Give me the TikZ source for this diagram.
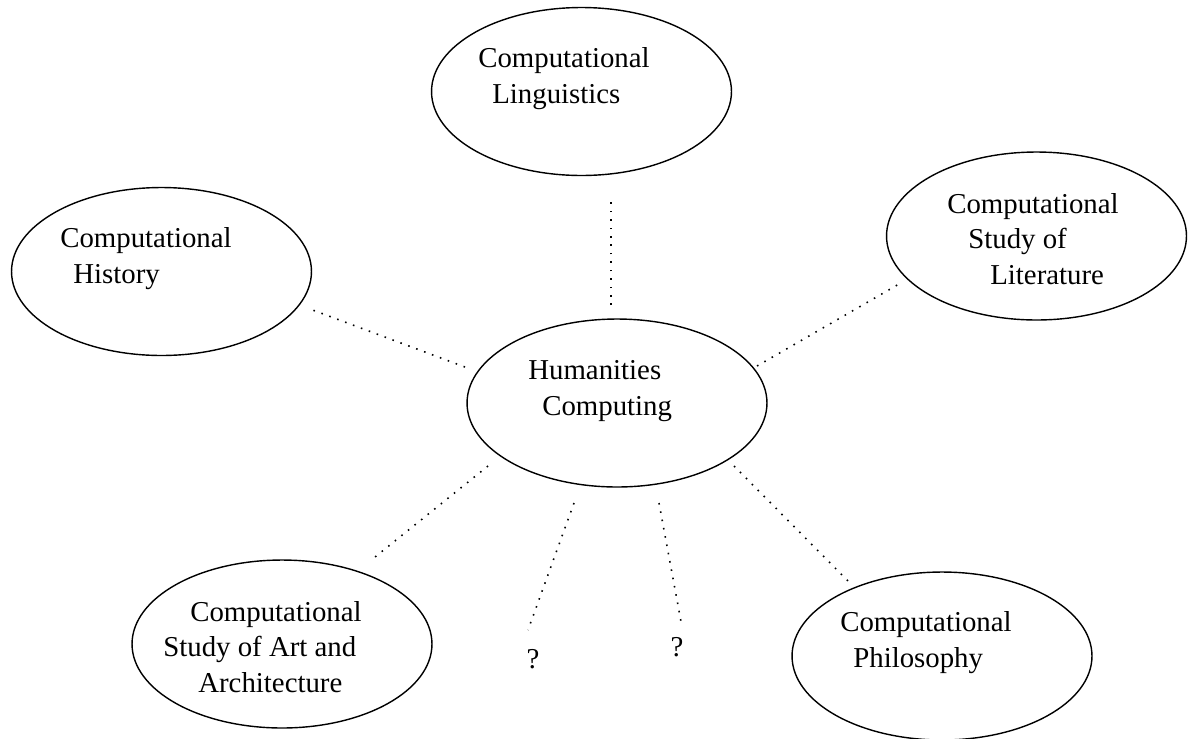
\documentclass[tikz,border=0pt]{standalone}
\usepackage{fontspec}
\setmainfont{Liberation Serif}
\usetikzlibrary{shapes.geometric}

\begin{document}
\begin{tikzpicture}[x=0.02cm, y=-0.02cm,
    bubble/.style={draw, ellipse, line width=0.8pt, minimum width=6cm, minimum height=3.36cm, inner sep=0pt},
    lbl/.style={anchor=base west, align=left, inner sep=0pt, font=\fontsize{16.4}{20.2}\selectfont},
    link/.style={line width=0.9pt, dash pattern=on 0.9pt off 3.9pt}]
    \useasboundingbox (0,0) rectangle (1189,738);

    % Centre (labels sit on the baseline of their last line)
    \node[bubble] (hc) at (617,403) {};
    \node[lbl] (hctext) at (528,415) {Humanities\\\hspace*{0.28cm}Computing};

    % Computational Linguistics
    \node[bubble] (ling) at (581.5,91.5) {};
    \node[lbl] (lingtext) at (478,103) {Computational\\\hspace*{0.28cm}Linguistics};

    % Computational History
    \node[bubble] (hist) at (161.5,271.5) {};
    \node[lbl] (histtext) at (60,283) {Computational\\\hspace*{0.26cm}History};

    % Computational Study of Literature
    \node[bubble] (lit) at (1036.5,236) {};
    \node[lbl] (littext) at (947,284) {Computational\\\hspace*{0.42cm}Study of\\\hspace*{0.86cm}Literature};

    % Computational Study of Art and Architecture
    \node[bubble] (art) at (282,644) {};
    \node[lbl] (arttext) at (163,692) {\hspace*{0.54cm}Computational\\Study of Art and\\\hspace*{0.7cm}Architecture};

    % Computational Philosophy
    \node[bubble] (phil) at (942,656) {};
    \node[lbl] (philtext) at (840,667) {Computational\\\hspace*{0.26cm}Philosophy};

    % Unknown fields
    \node[lbl, anchor=base] (qa) at (533,668) {?};
    \node[lbl, anchor=base] (qb) at (677,656) {?};

    % Dotted links
    \coordinate (ling-a) at (611,305);   \coordinate (ling-b) at (611,198);
    \coordinate (hist-a) at (465,367);   \coordinate (hist-b) at (310,309);
    \coordinate (lit-a) at (757,366);    \coordinate (lit-b) at (899,284);
    \coordinate (art-a) at (488,466);    \coordinate (art-b) at (375,557);
    \coordinate (phil-a) at (734,466);   \coordinate (phil-b) at (850,583);
    \coordinate (qa-a) at (574,503);     \coordinate (qa-b) at (528,630);
    \coordinate (qb-a) at (659,503);     \coordinate (qb-b) at (682,627);

    \draw[link] (ling-a) -- (ling-b);
    \draw[link] (hist-a) -- (hist-b);
    \draw[link] (lit-a) -- (lit-b);
    \draw[link] (art-a) -- (art-b);
    \draw[link] (phil-a) -- (phil-b);
    \draw[link] (qa-a) -- (qa-b);
    \draw[link] (qb-a) -- (qb-b);
\end{tikzpicture}
\end{document}
